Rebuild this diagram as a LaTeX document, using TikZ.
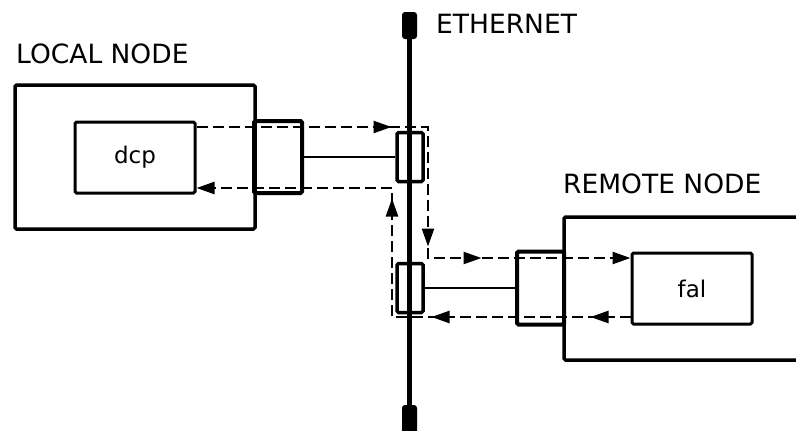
\documentclass[tikz,border=0pt]{standalone}
\usepackage{fontspec}
\setmainfont{DejaVu Sans}
\usetikzlibrary{arrows.meta,decorations.markings}
\tikzset{
  fx/.style={x=1pt, y=-1pt},
  n box/.style={draw, line width=3pt, rounded corners=1.5pt, inner sep=0pt, font=\fontsize{23}{23}\selectfont},
  n outer/.style={n box, line width=3.5pt},
  n adapt/.style={n box, line width=4pt},
  n tap/.style={n box, line width=3.5pt, minimum width=26pt, minimum height=49pt},
  n term/.style={fill=black, rounded corners=3pt, inner sep=0pt, minimum width=15pt},
  n title/.style={font=\fontsize{26.5}{27}\selectfont, anchor=base west, inner sep=0pt},
  n cable/.style={line width=5.5pt},
  n link/.style={line width=2pt},
  n flow/.style={line width=2.5pt, dash pattern=on 11pt off 5pt, -{Triangle[length=18pt,width=12pt]}},
  n tip/.style={postaction={decorate, decoration={markings,
    mark=at position #1 with {\arrow{Triangle[length=18pt,width=12pt]}}}}},
}
\begin{document}
\begin{tikzpicture}[fx]
\clip (0,0) rectangle (796,431);
\node[n outer, minimum width=240pt, minimum height=144pt] (lnode) at (135,157) {};
\node[n box, minimum width=120pt, minimum height=71pt] (dcp) at (135,157.5) {dcp};
\node[n adapt, minimum width=48pt, minimum height=72pt] (ladp) at (278,157) {};
\node[n outer, minimum width=246pt, minimum height=143pt] (rnode) at (687,288.5) {};
\node[n box, minimum width=120pt, minimum height=71pt] (fal) at (692,288.5) {fal};
\node[n adapt, minimum width=47pt, minimum height=73pt] (radp) at (540.5,288) {};
\node[n term, minimum height=27pt] (etop) at (409.5,25.5) {};
\node[n term, minimum height=30pt] (ebot) at (409.5,420) {};
\node[n tap] (ttop) at (410,157) {};
\node[n tap] (tbot) at (410,288) {};
\node[n title] (lname) at (16,63) {LOCAL NODE};
\node[n title] (rname) at (563,193) {REMOTE NODE};
\node[n title] (ename) at (436,33) {ETHERNET};
\draw[n cable] (etop) -- (ebot);
\draw[n link] (ladp.east) -- (ttop.west);
\draw[n link] (tbot.east) -- (radp.west);
% request and reply paths
\coordinate (o1) at (428,127);
\coordinate (o2) at (428,258);
\coordinate (b1) at (392,317);
\coordinate (b2) at (392,188);
\draw[n flow, n tip=195pt, n tip=351pt, n tip=416pt] (dcp.east|-o1) -- (o1) -- (o2) -- (fal.west|-o2);
\draw[n flow, n tip=40pt, n tip=199pt, n tip=357pt] (fal.west|-b1) -- (b1) -- (b2) -- (dcp.east|-b2);
\end{tikzpicture}
\end{document}
